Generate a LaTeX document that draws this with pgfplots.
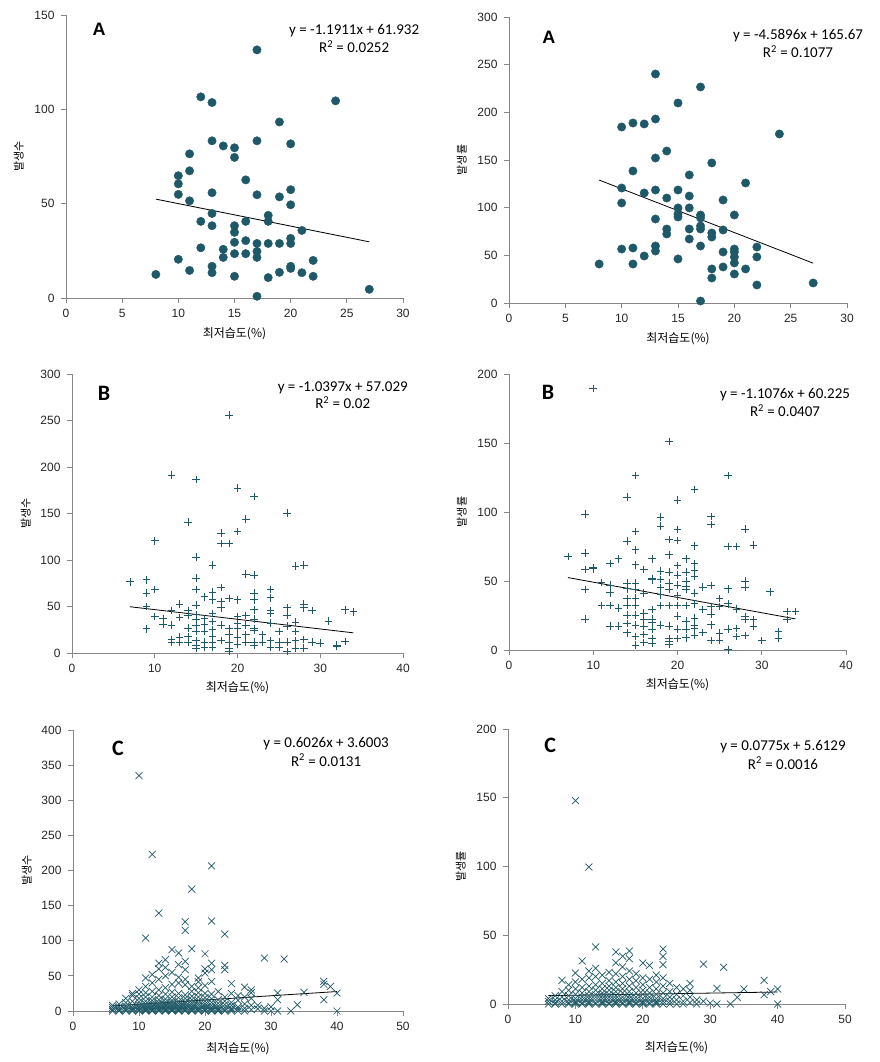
\documentclass[border=0pt]{standalone}
\usepackage{fontspec}
\usepackage{pgfplots}
\usepackage{pgfplotstable}
\pgfplotsset{compat=1.18}
\setmainfont{Liberation Sans}
\newfontfamily\kr{Noto Sans CJK KR}
\newfontfamily\carl{Carlito}
\definecolor{teal}{RGB}{31,88,102}
\definecolor{axgray}{RGB}{134,134,134}

\pgfplotstableread{
x y
8 12.5
10 64.8
10 60.5
10 54.9
10 20.5
11 76.4
11 67.4
11 51.5
11 14.6
12 106.6
12 40.6
12 26.6
13 103.6
13 83.3
13 55.8
13 44.8
13 38.3
13 16.8
13 13.4
14 80.6
14 25.8
14 21.5
15 79.6
15 74.5
15 38.3
15 34.8
15 29.5
15 23.5
15 11.5
16 62.6
16 40.6
16 30.4
16 23.5
17 131.5
17 83.3
17 54.7
17 28.9
17 24.7
17 21.5
17 0.9
18 43.8
18 40.6
18 28.9
18 10.8
19 93.3
19 53.6
19 28.9
19 13.6
20 81.7
20 57.4
20 49.4
20 31.6
20 28.9
20 16.8
20 15.7
21 35.8
21 13.4
22 19.9
22 11.5
24 104.5
27 4.6
}\dataAone

\pgfplotstableread{
x y
8 40.9
10 184.6
10 120.6
10 104.9
10 56.6
11 188.8
11 138.5
11 57.7
11 40.9
12 187.8
12 115.4
12 49.3
13 240.2
13 193.0
13 152.1
13 118.5
13 88.1
13 59.8
13 54.5
14 159.4
14 110.1
14 77.6
14 72.4
15 209.8
15 118.5
15 99.7
15 93.4
15 90.2
15 46.2
16 134.3
16 112.2
16 99.7
16 77.6
16 67.1
17 226.6
17 92.3
17 89.2
17 80.8
17 77.6
17 59.8
17 2.1
18 146.9
18 73.4
18 69.2
18 35.7
18 26.2
19 108.0
19 76.6
19 53.5
19 37.8
20 92.3
20 56.6
20 53.5
20 48.3
20 42.0
20 30.4
21 125.9
21 35.7
22 58.7
22 48.3
22 18.9
24 177.3
27 21.0
}\dataAtwo

\pgfplotstableread{
x y
7 76.6
9 78.8
9 64.4
9 50.1
9 26.1
10 120.7
10 68.4
10 39.4
11 37.2
11 30.8
12 191.2
12 45.5
12 30.1
12 14.7
12 11.5
13 52.6
13 38.3
13 17.2
13 11.5
14 140.7
14 45.5
14 40.5
14 26.9
14 17.9
14 11.5
15 186.5
15 103.1
15 80.6
15 68.4
15 51.6
15 41.2
15 36.5
15 30.1
15 22.9
15 13.6
15 8.6
15 5.4
16 60.5
16 37.2
16 30.8
16 22.9
16 11.5
16 6.1
17 94.5
17 65.5
17 57.3
17 42.6
17 34.0
17 25.1
17 17.9
17 11.5
17 6.1
18 128.9
18 117.8
18 70.5
18 55.1
18 48.7
18 30.1
18 13.6
19 255.6
19 117.8
19 58.7
19 26.1
19 19.7
19 11.5
19 5.4
19 1.4
20 177.2
20 130.7
20 57.3
20 39.4
20 32.2
20 26.1
20 17.2
20 9.3
21 143.9
21 84.9
21 40.5
21 30.1
21 19.7
21 11.5
22 168.3
22 83.8
22 64.4
22 57.3
22 46.5
22 36.5
22 26.1
22 24.0
22 11.5
22 8.6
23 19.7
23 11.5
24 68.4
24 59.4
24 45.5
24 42.6
24 32.2
24 13.6
24 6.1
25 22.9
25 11.5
25 6.1
26 150.4
26 48.7
26 40.5
26 29.0
26 11.5
26 1.4
27 93.4
27 33.3
27 22.9
27 13.6
27 5.4
28 94.5
28 52.6
28 48.7
28 14.7
28 5.4
29 45.5
29 11.5
30 10.7
31 34.4
32 7.5
32 8.6
33 46.5
33 12.5
34 44.4
}\dataBone

\pgfplotstableread{
x y
7 67.8
9 98.4
9 70.2
9 58.4
9 43.7
9 22.4
10 189.6
10 59.8
10 58.9
11 49.0
11 32.1
12 62.7
12 47.0
12 41.5
12 32.1
12 17.4
13 66.1
13 30.4
13 17.4
14 110.7
14 78.9
14 48.5
14 44.4
14 37.2
14 32.1
14 25.3
14 19.1
14 12.5
15 126.4
15 85.9
15 72.6
15 61.8
15 48.5
15 43.7
15 37.6
15 32.1
15 25.3
15 18.1
15 9.9
15 3.6
16 58.4
16 41.3
16 26.8
16 22.0
16 17.4
16 11.1
16 5.3
17 66.1
17 51.9
17 50.9
17 29.2
17 22.4
17 20.3
17 15.0
17 8.2
17 5.1
18 96.3
18 89.7
18 57.2
18 51.1
18 45.1
18 40.0
18 32.1
18 18.1
19 151.0
19 80.1
19 69.0
19 56.5
19 48.5
19 44.1
19 32.1
19 17.4
19 8.2
19 6.5
19 4.3
20 108.6
20 87.3
20 79.4
20 61.3
20 54.3
20 47.0
20 39.3
20 32.1
20 24.6
20 15.2
20 8.2
21 66.1
21 56.5
21 49.9
21 46.3
21 43.7
21 32.1
21 21.0
21 15.2
21 8.9
22 116.3
22 75.5
22 62.5
22 57.7
22 53.3
22 41.3
22 33.5
22 23.2
22 17.6
22 15.7
22 10.4
23 45.6
23 29.2
23 12.8
24 96.7
24 91.0
24 46.6
24 31.6
24 26.1
24 18.3
24 7.0
25 37.2
25 31.6
25 12.3
25 6.8
26 126.4
26 75.0
26 44.4
26 33.5
26 15.0
26 0.2
27 75.0
27 29.7
27 15.7
27 9.9
28 87.6
28 49.9
28 45.4
28 24.4
28 22.0
28 10.4
29 76.2
29 22.0
29 17.1
30 6.8
31 42.2
32 13.5
32 8.2
33 28.0
33 22.0
34 28.0
}\dataBtwo

\pgfplotstableread{
x y
6 0
6 2
6 5
6 8
7 0
7 1
7 3
7 6
7 10
8 0
8 2
8 4
8 7
8 12
8 18
9 0
9 1
9 3
9 5
9 8
9 14
9 22
9 25
10 0
10 1
10 2
10 4
10 6
10 9
10 13
10 18
10 24
10 30
10 335
11 0
11 1
11 2
11 3
11 5
11 7
11 10
11 14
11 20
11 26
11 35
11 47
11 103.8
12 0
12 1
12 2
12 4
12 6
12 8
12 11
12 15
12 20
12 28
12 40
12 51.7
12 223
13 0
13 1
13 3
13 5
13 7
13 9
13 12
13 16
13 22
13 30
13 45
13 60
13 68
13 139.3
14 0
14 1
14 2
14 4
14 6
14 8
14 10
14 13
14 17
14 24
14 33
14 50
14 62
14 73
15 0
15 1
15 2
15 3
15 5
15 7
15 9
15 12
15 15
15 20
15 27
15 38
15 55
15 87.2
16 0
16 1
16 2
16 4
16 6
16 8
16 11
16 14
16 19
16 25
16 39.8
16 48
16 66
16 82.5
17 0
17 1
17 3
17 5
17 7
17 10
17 13
17 18
17 23
17 37.4
17 45
17 58.8
17 70.6
17 114.7
17 127
18 0
18 1
18 2
18 4
18 6
18 9
18 12
18 16
18 21
18 28
18 35
18 88.6
18 173.5
19 0
19 1
19 3
19 5
19 8
19 11
19 15
19 20
19 26
19 33
19 41.7
19 47
20 0
20 1
20 2
20 4
20 7
20 10
20 14
20 19
20 25
20 36
20 54
20 60
20 81.5
21 0
21 1
21 3
21 5
21 8
21 12
21 17
21 24
21 42
21 58.8
21 68
21 128
21 206.6
22 0
22 1
22 2
22 4
22 7
22 11
22 16
22 27.5
23 0
23 2
23 5
23 9
23 14
23 20
23 58.8
23 65
23 109.5
24 0
24 2
24 4
24 8
24 12
24 25
24 39
25 0
25 3
25 6
25 15
25 22
26 0
26 4
26 10
26 20
26 34
27 2
27 8
27 18
27 26
27 30
28 3
28 8
29 0
29 4
29 75.4
30 0
30 6
31 0
31 16
31 25.6
32 74
33 0
34 9
35 26.5
38 16
38 38
38 42.2
39 35
40 0
40 25.6
}\dataCone

\pgfplotstableread{
x y
6 0
6 2
6 4
7 0
7 1
7 3
7 6
8 0
8 2
8 5
8 9
8 17.2
9 0
9 1
9 3
9 6
9 10
9 14
10 0
10 1
10 2
10 4
10 7
10 11
10 16
10 22.5
10 147.9
11 0
11 1
11 3
11 5
11 8
11 12
11 18
11 31.3
12 0
12 1
12 2
12 4
12 6
12 9
12 13
12 19
12 24
12 99.6
13 0
13 1
13 3
13 5
13 7
13 10
13 14
13 20
13 26
13 41.5
14 0
14 1
14 2
14 4
14 6
14 8
14 11
14 15
14 21
15 0
15 1
15 3
15 5
15 7
15 10
15 13
15 17
15 23
16 0
16 1
16 2
16 4
16 6
16 9
16 12
16 16
16 22
16 30
16 37.8
17 0
17 1
17 3
17 5
17 8
17 11
17 15
17 20
17 27
17 34.7
18 0
18 1
18 2
18 4
18 6
18 9
18 13
18 18
18 24
18 33
18 38.5
19 0
19 1
19 3
19 5
19 8
19 12
19 17
19 22
20 0
20 1
20 2
20 4
20 7
20 10
20 14
20 19
20 29.8
21 0
21 1
21 3
21 5
21 8
21 12
21 18
21 28.1
22 0
22 1
22 2
22 4
22 7
22 11
22 16
22 21
23 0
23 2
23 4
23 8
23 13
23 19
23 28.6
23 34.7
23 40
24 0
24 2
24 5
24 9
24 15
25 0
25 3
25 7
25 12
26 0
26 2
26 6
26 11
27 1
27 5
27 10
27 15
28 0
28 3
29 2
29 29
30 0.7
31 0
31 11.4
32 26.7
33 0
34 4.8
35 10.9
38 6.8
38 17.2
39 9
40 0
40 10.9
}\dataCtwo

\tikzset{eqf/.style={font=\carl\fontsize{15}{17}\selectfont}}
\pgfplotsset{
  every axis/.append style={
    scale only axis,
    axis lines=left,
    axis line style={-, draw=axgray, line width=0.8pt},
    tick style={draw=axgray, line width=0.8pt},
    major tick length=5pt,
    tick align=outside,
    xtick pos=bottom, ytick pos=left,
    clip=false,
    /pgf/number format/assume math mode=true,
    tick label style={font=\fontsize{12}{14}\selectfont, color=black!85},
    xticklabel style={yshift=-3pt},
    yticklabel style={xshift=-3pt},
    every axis x label/.style={at={(axis description cs:0.5,-0.125)}, anchor=center, font=\kr\fontsize{12}{14}\selectfont},
    every axis y label/.style={at={(axis description cs:-0.14,0.5)}, anchor=center, rotate=90, font=\kr\fontsize{11}{13}\selectfont},
  },
  dotA/.style={only marks, mark=*, mark size=4.2pt, mark options={fill=teal, draw=teal}},
  plusB/.style={only marks, mark=+, mark size=3.8pt, mark options={draw=teal, line width=0.65pt}},
  crossC/.style={only marks, mark=x, mark size=4.9pt, mark options={draw=teal, line width=0.7pt}},
  trend/.style={black, line width=0.8pt, mark=none},
}

\begin{document}
\begin{tikzpicture}
\useasboundingbox (0pt,0pt) rectangle (879pt,1062pt);

% Panel 1
\begin{axis}[at={(66pt,764pt)}, anchor=south west, width=337pt, height=283pt,
  xmin=0, xmax=30, ymin=0, ymax=150, xtick={0,5,...,30}, ytick={0,50,100,150},
  xlabel={최저습도(\%)}, ylabel={발생수}]
\addplot[dotA] table {\dataAone};
\addplot[trend] coordinates {(8,52.403) (27,29.772)};
\node[font=\bfseries\fontsize{18}{20}\selectfont] at (rel axis cs:0.098,0.95) {A};
\node[eqf] at (rel axis cs:0.855,0.943) {y = -1.1911x + 61.932};
\node[eqf] at (rel axis cs:0.855,0.887) {R\textsuperscript{2} = 0.0252};
\end{axis}

% Panel 2
\begin{axis}[at={(509pt,759pt)}, anchor=south west, width=338pt, height=286pt,
  xmin=0, xmax=30, ymin=0, ymax=300, xtick={0,5,...,30}, ytick={0,50,...,300},
  xlabel={최저습도(\%)}, ylabel={발생률}]
\addplot[dotA] table {\dataAtwo};
\addplot[trend] coordinates {(8,128.953) (27,41.751)};
\node[font=\bfseries\fontsize{18}{20}\selectfont] at (rel axis cs:0.118,0.93) {A};
\node[eqf] at (rel axis cs:0.855,0.934) {y = -4.5896x + 165.67};
\node[eqf] at (rel axis cs:0.855,0.878) {R\textsuperscript{2} = 0.1077};
\end{axis}

% Panel 3
\begin{axis}[at={(72pt,409pt)}, anchor=south west, width=331pt, height=279pt,
  xmin=0, xmax=40, ymin=0, ymax=300, xtick={0,10,...,40}, ytick={0,50,...,300},
  xlabel={최저습도(\%)}, ylabel={발생수}]
\addplot[plusB] table {\dataBone};
\addplot[trend] coordinates {(7,49.751) (34,21.679)};
\node[font=\carl\bfseries\fontsize{22}{24}\selectfont] at (rel axis cs:0.097,0.932) {B};
\node[eqf] at (rel axis cs:0.818,0.95) {y = -1.0397x + 57.029};
\node[eqf] at (rel axis cs:0.818,0.896) {R\textsuperscript{2} = 0.02};
\end{axis}

% Panel 4
\begin{axis}[at={(509pt,412pt)}, anchor=south west, width=337pt, height=276pt,
  xmin=0, xmax=40, ymin=0, ymax=200, xtick={0,10,...,40}, ytick={0,50,...,200},
  xlabel={최저습도(\%)}, ylabel={발생률}]
\addplot[plusB] table {\dataBtwo};
\addplot[trend] coordinates {(7,52.472) (34,22.567)};
\node[font=\carl\bfseries\fontsize{22}{24}\selectfont] at (rel axis cs:0.116,0.935) {B};
\node[eqf] at (rel axis cs:0.819,0.924) {y = -1.1076x + 60.225};
\node[eqf] at (rel axis cs:0.819,0.866) {R\textsuperscript{2} = 0.0407};
\end{axis}

% Panel 5
\begin{axis}[at={(73pt,51pt)}, anchor=south west, width=330pt, height=281pt,
  xmin=0, xmax=50, ymin=0, ymax=400, xtick={0,10,...,50}, ytick={0,50,...,400},
  xlabel={최저습도(\%)}, ylabel={발생수},
  every axis x label/.append style={at={(axis description cs:0.5,-0.135)}}]
\addplot[crossC] table {\dataCone};
\addplot[trend] coordinates {(6,7.216) (40,27.704)};
\node[font=\carl\bfseries\fontsize{22}{24}\selectfont] at (rel axis cs:0.136,0.936) {C};
\node[eqf] at (rel axis cs:0.767,0.95) {y = 0.6026x + 3.6003};
\node[eqf] at (rel axis cs:0.767,0.893) {R\textsuperscript{2} = 0.0131};
\end{axis}

% Panel 6
\begin{axis}[at={(508pt,58pt)}, anchor=south west, width=337pt, height=275pt,
  xmin=0, xmax=50, ymin=0, ymax=200, xtick={0,10,...,50}, ytick={0,50,...,200},
  xlabel={최저습도(\%)}, ylabel={발생률},
  every axis x label/.append style={at={(axis description cs:0.5,-0.16)}}]
\addplot[crossC] table {\dataCtwo};
\addplot[trend] coordinates {(6,6.078) (40,8.713)};
\node[font=\carl\bfseries\fontsize{22}{24}\selectfont] at (rel axis cs:0.125,0.942) {C};
\node[eqf] at (rel axis cs:0.816,0.935) {y = 0.0775x + 5.6129};
\node[eqf] at (rel axis cs:0.816,0.876) {R\textsuperscript{2} = 0.0016};
\end{axis}
\end{tikzpicture}
\end{document}
